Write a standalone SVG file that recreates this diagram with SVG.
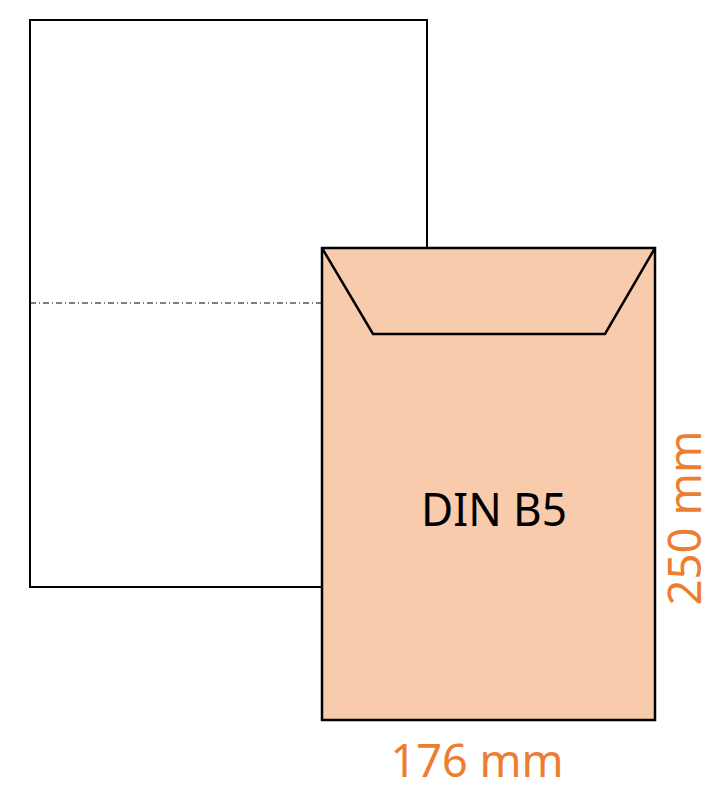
<svg xmlns="http://www.w3.org/2000/svg" width="713" height="790" viewBox="0 0 713 790">
<style>
.ln{fill:none;stroke:#000;stroke-width:2.5;stroke-linejoin:miter}
.dim{font-family:"Noto Sans","Open Sans",sans-serif;font-size:45px;fill:#ED7D31}
.lbl{font-family:"Noto Sans","Open Sans",sans-serif;font-size:46px;fill:#000}
</style>
<rect width="713" height="790" fill="#fff"/>
<g id="paper">
<rect x="30" y="20" width="397" height="567" fill="#fff" stroke="#000" stroke-width="2"/>
<line x1="30" y1="303" x2="322" y2="303" stroke="#000" stroke-width="1" stroke-dasharray="6,3,1,3"/>
</g>
<g id="envelope">
<rect x="322" y="248" width="333" height="472" fill="#F7CBAC" stroke="#000" stroke-width="2.5"/>
<polyline class="ln" points="322,248 373,334 605,334 655,248"/>
<text class="lbl" x="494" y="526" text-anchor="middle" textLength="146" lengthAdjust="spacingAndGlyphs">DIN B5</text>
</g>
<g id="dims">
<text class="dim" x="477" y="777" text-anchor="middle" textLength="173" lengthAdjust="spacingAndGlyphs">176 mm</text>
<text class="dim" transform="translate(701,518) rotate(-90)" text-anchor="middle" textLength="175" lengthAdjust="spacingAndGlyphs">250 mm</text>
</g>
</svg>
